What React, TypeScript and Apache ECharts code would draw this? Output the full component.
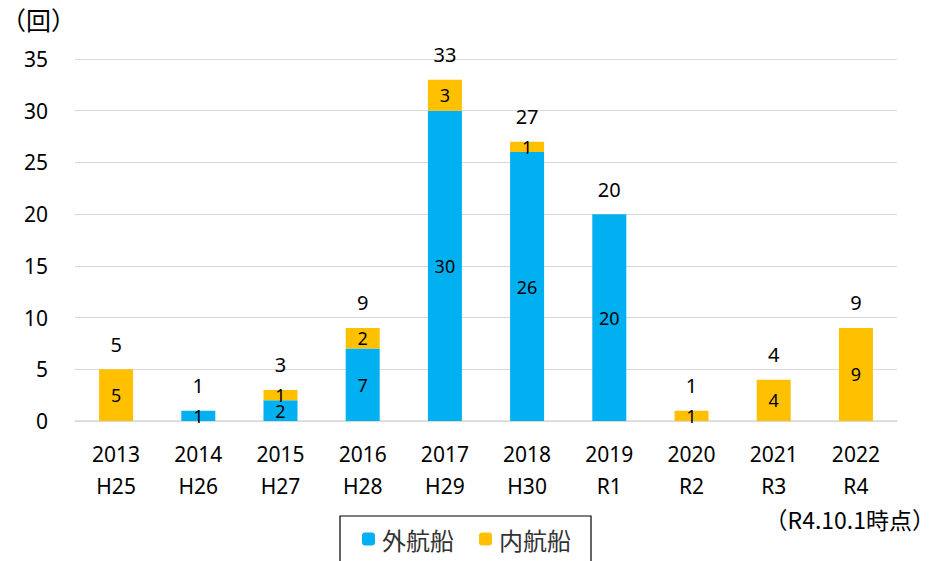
import React, { useEffect, useRef } from "react";
import * as echarts from "echarts";

const years = ["2013", "2014", "2015", "2016", "2017", "2018", "2019", "2020", "2021", "2022"];
const eras = ["H25", "H26", "H27", "H28", "H29", "H30", "R1", "R2", "R3", "R4"];
const foreignShips = [0, 1, 2, 7, 30, 26, 20, 0, 0, 0];
const domesticShips = [5, 0, 1, 2, 3, 1, 0, 1, 4, 9];
const seriesNames = ["外航船", "内航船"];
const yTicks = [0, 5, 10, 15, 20, 25, 30, 35];

const FONT = "'Noto Sans', 'Noto Sans CJK JP', sans-serif";
const CJK = "'Noto Sans CJK JP', sans-serif";

export default function App() {
  const ref = useRef<HTMLDivElement>(null);
  useEffect(() => {
    if (!ref.current) return;
    const chart = echarts.init(ref.current, null, { renderer: "svg" });
    const categories = years.map((y, i) => `${y}\n${eras[i]}`);
    const totals = years.map((_, i) => foreignShips[i] + domesticShips[i]);
    const innerLabel = {
      show: true,
      position: "inside" as const,
      color: "#000",
      fontSize: 18,
      fontFamily: FONT,
      formatter: (p: any) => (p.value ? String(p.value) : ""),
    };
    chart.setOption({
      animation: false,
      textStyle: { fontFamily: FONT },
      grid: { left: 75, right: 39, top: 59, bottom: 140, containLabel: false },
      legend: {
        data: seriesNames,
        left: 340,
        top: 516,
        itemWidth: 13,
        itemHeight: 13,
        itemGap: 25,
        padding: [11, 20, 16, 22],
        borderColor: "#000",
        borderWidth: 1.2,
        textStyle: { fontSize: 24, color: "#333", fontFamily: CJK, padding: [0, 0, 0, 2] },
      },
      xAxis: {
        type: "category",
        data: categories,
        axisLine: { lineStyle: { color: "#d9d9d9", width: 1.5 } },
        axisTick: { show: false },
        axisLabel: { color: "#000", fontSize: 21, lineHeight: 32, margin: 17, fontFamily: FONT },
      },
      yAxis: {
        type: "value",
        min: yTicks[0],
        max: yTicks[yTicks.length - 1],
        interval: 5,
        axisLine: { show: false },
        axisTick: { show: false },
        splitLine: { lineStyle: { color: "#d9d9d9", width: 1.2 } },
        axisLabel: { color: "#000", fontSize: 21, margin: 27, fontFamily: FONT },
      },
      series: [
        {
          name: seriesNames[0],
          type: "bar",
          stack: "total",
          barWidth: 34,
          data: foreignShips,
          itemStyle: { color: "#00B0F0" },
          label: innerLabel,
        },
        {
          name: seriesNames[1],
          type: "bar",
          stack: "total",
          barWidth: 34,
          data: domesticShips,
          itemStyle: { color: "#FFC000" },
          label: innerLabel,
        },
        {
          name: "合計",
          type: "bar",
          stack: "total",
          barWidth: 34,
          data: totals.map(() => 0),
          itemStyle: { color: "transparent" },
          label: {
            show: true,
            position: "top",
            distance: 15,
            color: "#000",
            fontSize: 20,
            fontFamily: FONT,
            formatter: (p: any) => String(totals[p.dataIndex]),
          },
        },
      ],
      graphic: [
        {
          type: "text",
          left: 1,
          top: 6,
          style: { text: "（回）", fontSize: 25, fill: "#000", fontFamily: CJK },
        },
        {
          type: "text",
          right: 1,
          top: 507,
          style: { text: "（R4.10.1時点）", fontSize: 23, fill: "#000", fontFamily: CJK },
        },
      ],
    });
    return () => chart.dispose();
  }, []);
  return (
    <div
      ref={ref}
      style={{ position: "fixed", left: 0, top: 0, width: 936, height: 561, background: "#fff" }}
    />
  );
}
